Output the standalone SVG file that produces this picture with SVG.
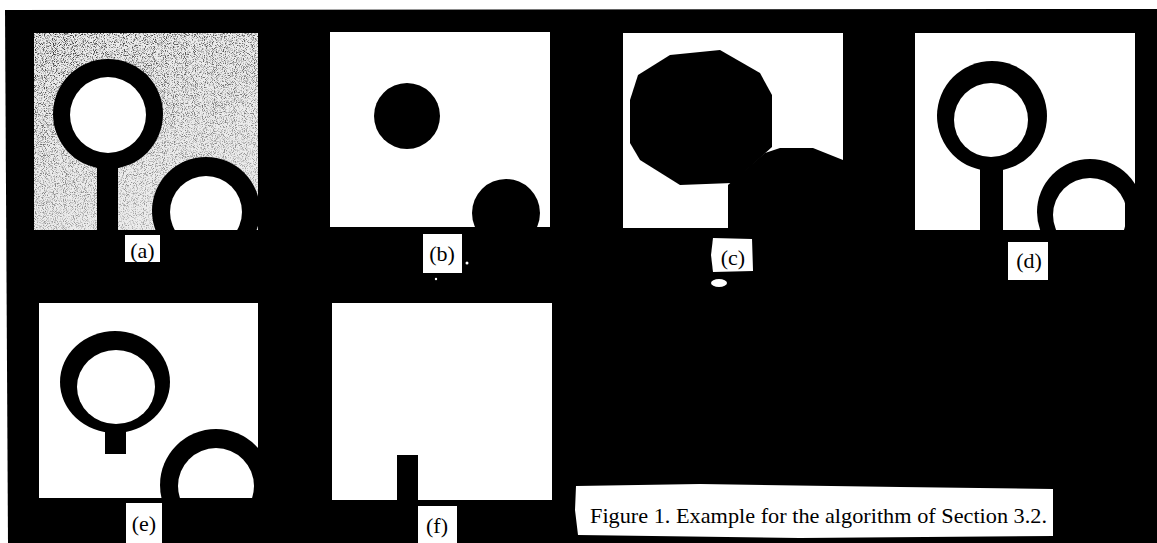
<svg xmlns="http://www.w3.org/2000/svg" width="1157" height="543" viewBox="0 0 1157 543">
<style>
.lbl{font-family:"Liberation Serif","DejaVu Serif",serif;font-size:22px;fill:#000;text-anchor:middle}
.cap{font-family:"Liberation Serif","DejaVu Serif",serif;font-size:22px;fill:#000}
.wb{fill:#fff}
.blk{fill:#000}
</style>
<defs>
<filter id="grain" x="0" y="0" width="100%" height="100%">
<feTurbulence type="fractalNoise" baseFrequency="1.1" numOctaves="1" seed="4" result="n"/>
<feColorMatrix in="n" type="matrix" values="0 0 0 0 0  0 0 0 0 0  0 0 0 0 0  -4 0 0 0 2.1" result="dots"/>
<feComposite in="dots" in2="SourceGraphic" operator="in"/>
</filter>
<linearGradient id="fade" x1="0" y1="0" x2="0.4" y2="1">
<stop offset="0" stop-color="#000" stop-opacity="0.8"/>
<stop offset="1" stop-color="#000" stop-opacity="0.3"/>
</linearGradient>
<clipPath id="ca"><rect x="34" y="33" width="224" height="197"/></clipPath>
<clipPath id="cb"><rect x="330" y="32" width="220" height="195"/></clipPath>
<clipPath id="cc"><rect x="623" y="33" width="220" height="195"/></clipPath>
<clipPath id="cd"><rect x="915" y="33" width="220" height="197"/></clipPath>
<clipPath id="ce"><rect x="39" y="303" width="219" height="195"/></clipPath>
</defs>
<rect width="1157" height="543" fill="#fff"/>
<polygon points="5,10 1157,9 1157,543 8,543" fill="#000"/>

<g id="panel-a" clip-path="url(#ca)">
<rect x="34" y="33" width="224" height="197" fill="#ececec"/>
<rect x="34" y="33" width="224" height="197" fill="url(#fade)" filter="url(#grain)"/>
<circle cx="108" cy="114" r="55" class="blk"/>
<circle cx="108" cy="115" r="38" class="wb"/>
<rect x="97" y="160" width="21" height="70" class="blk"/>
<circle cx="206" cy="211" r="54" class="blk"/>
<circle cx="206" cy="212" r="36" class="wb"/>
</g>
<g id="label-a"><rect x="125" y="235" width="35" height="27" class="wb"/><text x="142.5" y="258" class="lbl">(a)</text></g>

<g id="panel-b" clip-path="url(#cb)">
<rect x="330" y="32" width="220" height="195" class="wb"/>
<circle cx="407" cy="116" r="33" class="blk"/>
<circle cx="506" cy="213" r="34" class="blk"/>
</g>
<g id="label-b"><rect x="423" y="234" width="39" height="39" class="wb"/><text x="442" y="261" class="lbl">(b)</text>
<circle cx="467" cy="263" r="1.5" class="wb"/><circle cx="436" cy="279" r="1.2" class="wb"/></g>

<g id="panel-c" clip-path="url(#cc)">
<rect x="623" y="33" width="220" height="195" class="wb"/>
<polygon points="638,75 670,55 720,50 760,73 772,95 772,147 732,183 680,185 640,160 630,143 630,100" class="blk"/>
<polygon points="728,185 765,153 780,148 813,148 843,160 843,228 728,228" class="blk"/>
</g>
<g id="label-c"><polygon points="713,238 752,239 753,271 713,272 711,255" class="wb"/><text x="733" y="265" class="lbl">(c)</text>
<ellipse cx="719" cy="283" rx="8" ry="4" class="wb"/></g>

<g id="panel-d" clip-path="url(#cd)">
<rect x="915" y="33" width="220" height="197" class="wb"/>
<circle cx="992" cy="116" r="55" class="blk"/>
<circle cx="991" cy="120" r="37" class="wb"/>
<rect x="980" y="160" width="23" height="70" class="blk"/>
<circle cx="1090" cy="212" r="53" class="blk"/>
<circle cx="1090" cy="215" r="37" class="wb"/>
</g>
<rect x="1125" y="185" width="12" height="45" class="blk"/>
<g id="label-d"><rect x="1008" y="242" width="40" height="38" class="wb"/><text x="1029" y="268" class="lbl">(d)</text></g>

<g id="panel-e" clip-path="url(#ce)">
<rect x="39" y="303" width="219" height="195" class="wb"/>
<ellipse cx="115" cy="382" rx="55" ry="51" class="blk"/>
<ellipse cx="116" cy="387" rx="39" ry="37" class="wb"/>
<rect x="105" y="425" width="21" height="29" class="blk"/>
<circle cx="216" cy="485" r="56" class="blk"/>
<circle cx="216" cy="486" r="38" class="wb"/>
</g>
<g id="label-e"><rect x="126" y="503" width="36" height="40" class="wb"/><text x="144" y="531" class="lbl">(e)</text></g>

<g id="panel-f">
<rect x="332" y="303" width="220" height="197" class="wb"/>
<rect x="397" y="455" width="21" height="45" class="blk"/>
</g>
<g id="label-f"><rect x="418" y="506" width="39" height="37" class="wb"/><text x="437" y="533" class="lbl">(f)</text></g>

<g id="caption">
<polygon points="576,486 700,484 900,487 1053,489 1053,536 800,538 578,535 575,510" class="wb"/>
<text x="590" y="523" class="cap" textLength="457" lengthAdjust="spacingAndGlyphs">Figure 1. Example for the algorithm of Section 3.2.</text>
</g>
</svg>
